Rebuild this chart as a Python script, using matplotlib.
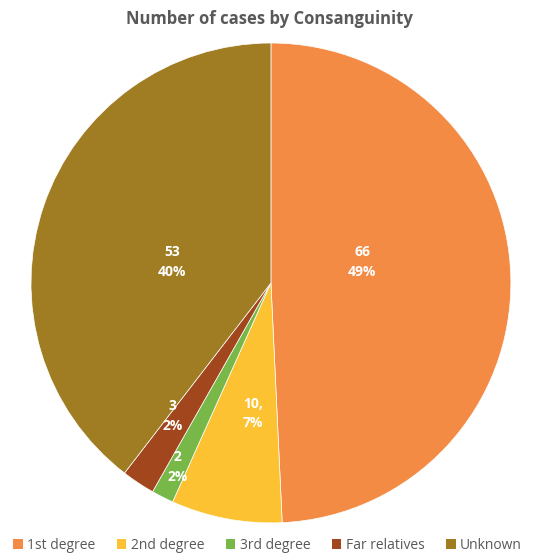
import numpy as np
import matplotlib
matplotlib.use("Agg")
from matplotlib import pyplot as plt
from matplotlib.patches import Patch

plt.rcParams['font.family'] = ['Open Sans', 'DejaVu Sans']

categories = ['1st degree', '2nd degree', '3rd degree', 'Far relatives', 'Unknown']
cases = [66, 10, 2, 3, 53]
labels = ['66\n49%', '10,\n7%', '2\n2%', '3\n2%', '53\n40%']
colors = ['#F38B45', '#FDC231', '#78B848', '#A2461D', '#A07D23']
# label placement: fraction of radius, and turn away from the slice middle (deg)
label_r = [0.39, 0.55, 0.86, 0.69, 0.42]
label_turn = [11.6, 2.8, 0.0, -2.9, 6.8]

fig = plt.figure(figsize=(5.38, 5.57), dpi=100)
ax = fig.add_axes([0.0576, 0.061, 0.892, 0.862])

wedges, _ = ax.pie(cases, colors=colors, startangle=90, counterclock=False,
                   wedgeprops=dict(linewidth=0.5, edgecolor='white'))
ax.set_aspect('equal')
ax.set_xlim(-1, 1)
ax.set_ylim(-1, 1)

for w, lab, r, t in zip(wedges, labels, label_r, label_turn):
    ang = np.deg2rad((w.theta1 + w.theta2) / 2 + t)
    ax.text(r * np.cos(ang), r * np.sin(ang), lab, ha='center', va='center',
            color='white', fontsize=10, fontweight='bold', linespacing=1.5)

fig.text(0.5, 0.965, 'Number of cases by Consanguinity', ha='center', va='center',
         fontsize=12, fontweight='bold', color='#595959')

handles = [Patch(facecolor=c, edgecolor='none') for c in colors]
fig.legend(handles, categories, loc='center', bbox_to_anchor=(0.497, 0.021), ncol=5,
           frameon=False, fontsize=10, handlelength=0.7, handleheight=0.7,
           handletextpad=0.3, columnspacing=1.55, labelcolor='#595959')

fig.savefig('out.png', dpi=100)
